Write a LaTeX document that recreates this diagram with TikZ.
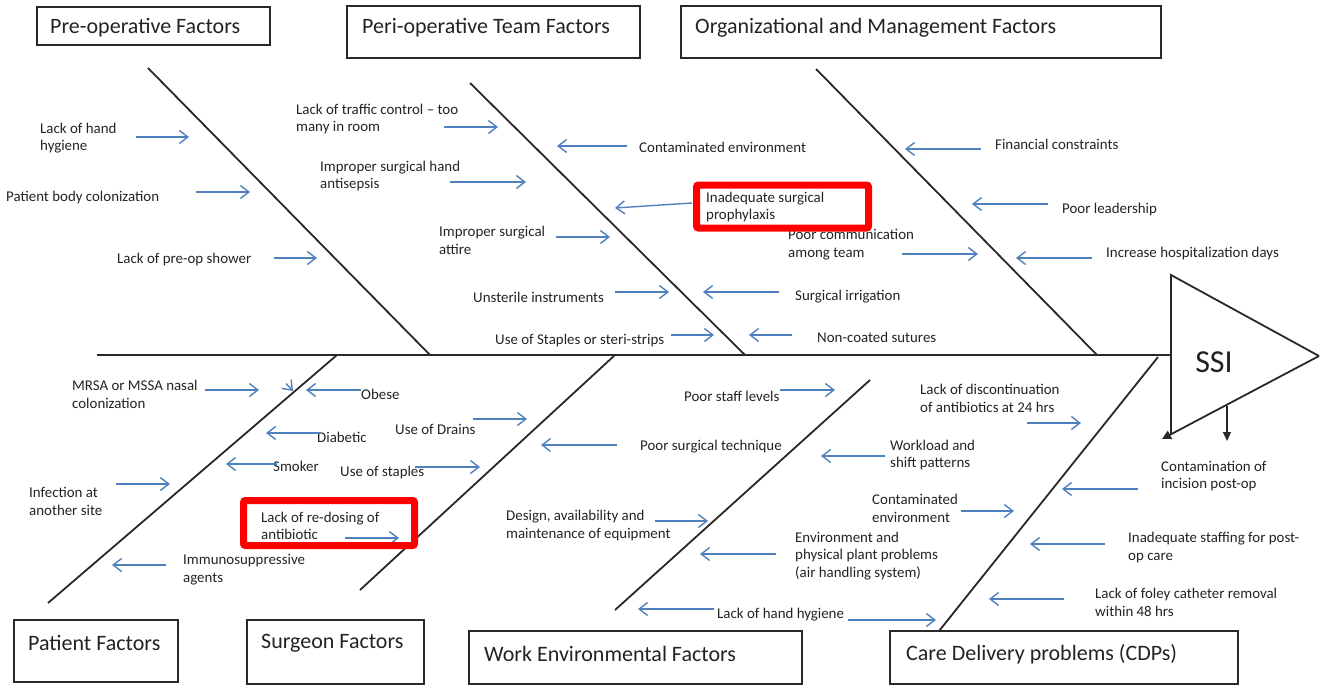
\documentclass[tikz,border=0pt]{standalone}
\usepackage{fontspec}
\setmainfont{Carlito}
\usetikzlibrary{arrows.meta}

\definecolor{causeblue}{RGB}{79,129,189}
\definecolor{boneline}{RGB}{40,40,40}
\definecolor{txt}{RGB}{35,35,35}

\tikzset{
	bone/.style={draw=boneline, line width=1.8pt},
	catbox/.style={draw=boneline, line width=1.3pt},
	cause/.style={draw=causeblue, line width=1.4pt, -{Straight Barb[length=8.5pt,width=13pt]}},
	lbl/.style={anchor=west, align=left, inner sep=0pt, yshift=-1pt, text=txt, font=\fontsize{14.9}{17.3}\selectfont},
	cat/.style={anchor=west, inner sep=0pt, yshift=-2pt, text=txt, font=\fontsize{22}{25}\selectfont},
	hilite/.style={draw=red, line width=7pt, rounded corners=2pt},
}

\begin{document}
\begin{tikzpicture}[x=1pt, y=-1pt]
	\useasboundingbox (0,0) rectangle (1320,685);
	
	% Category boxes
	\draw[catbox] (37,7) rectangle (270,45);
	\draw[catbox] (347,6) rectangle (640,58);
	\draw[catbox] (681,6) rectangle (1161,58);
	\draw[catbox] (14,620) rectangle (178,682);
	\draw[catbox] (247,620) rectangle (424,684);
	\draw[catbox] (469,631) rectangle (802,684);
	\draw[catbox] (890,631) rectangle (1238,684);
	\node[cat] (preop)   at (50,26)   {Pre-operative Factors};
	\node[cat] (periop)  at (362,26)  {Peri-operative Team Factors};
	\node[cat] (orgman)  at (695,26)  {Organizational and Management Factors};
	\node[cat] (patient) at (28,641)  {Patient Factors};
	\node[cat] (surgeon) at (261,641) {Surgeon Factors};
	\node[cat] (workenv) at (484,652) {Work Environmental Factors};
	\node[cat] (cdp)     at (906,652) {Care Delivery problems (CDPs)};
	
	% Spine and head
	\draw[bone] (97,355) -- (1171,355);
	\draw[bone] (1171,434) -- (1171,275) -- (1319,356);
	\draw[bone, -{Triangle[length=9pt,width=9pt]}] (1319,356) -- (1162,439);
	\draw[catbox, -{Triangle[length=9pt,width=8pt]}] (1227,406) -- (1227,441);
	\node[text=txt, font=\fontsize{32}{36}\selectfont] (ssi) at (1214,362) {SSI};
	
	% Bones (upper)
	\draw[bone] (148,68) -- (430,355);
	\draw[bone] (470,83) -- (745,355);
	\draw[bone] (816,69) -- (1097,355);
	% Bones (lower)
	\draw[bone] (337,355) -- (48,603);
	\draw[bone] (615,355) -- (360,590);
	\draw[bone] (870,380) -- (615,610);
	\draw[bone] (1158,357) -- (939,631);
	
	% Pre-operative causes
	\node[lbl] (handhyg)  at (40,137)  {Lack of hand\\hygiene};
	\node[lbl] (colon)    at (6,197)   {Patient body colonization};
	\node[lbl] (shower)   at (117,259) {Lack of pre-op shower};
	\draw[cause] (136,137) -- (189,137);
	\draw[cause] (196,192) -- (250,192);
	\draw[cause] (274,258) -- (317,258);
	
	% Peri-operative team causes
	\node[lbl] (traffic)  at (296,118)   {Lack of traffic control -- too\\many in room};
	\node[lbl] (antisep)  at (320,175)   {Improper surgical hand\\antisepsis};
	\node[lbl] (attire)   at (439,239.5) {Improper surgical\\attire};
	\node[lbl] (unster)   at (473,296)   {Unsterile instruments};
	\node[lbl] (staples)  at (495,340)   {Use of Staples or steri-strips};
	\node[lbl] (contenv)  at (639,146)   {Contaminated environment};
	\node[lbl] (prophyl)  at (706,206)   {Inadequate surgical\\prophylaxis};
	\node[lbl] (irrig)    at (795,296)   {Surgical irrigation};
	\node[lbl] (sutures)  at (817,336)   {Non-coated sutures};
	\node[lbl] (comm)     at (788,243.5) {Poor communication\\among team};
	\draw[cause] (444,127) -- (498,127);
	\draw[cause] (450,182) -- (526,182);
	\draw[cause] (556,237) -- (610,237);
	\draw[cause] (615,292) -- (669,292);
	\draw[cause] (671,335) -- (714,335);
	\draw[cause] (627,146) -- (557,146);
	\draw[cause] (692,203) -- (615,208);
	\draw[cause] (779,292) -- (703,292);
	\draw[cause] (792,335) -- (749,335);
	\draw[cause] (902,254) -- (978,254);
	
	% Organizational causes
	\node[lbl] (finance)  at (995,143)  {Financial constraints};
	\node[lbl] (leader)   at (1062,209) {Poor leadership};
	\node[lbl] (hospdays) at (1106,253) {Increase hospitalization days};
	\draw[cause] (981,149) -- (905,149);
	\draw[cause] (1048,204) -- (972,204);
	\draw[cause] (1092,258) -- (1016,258);
	
	% Patient causes
	\node[lbl] (mrsa)     at (72,393.5)  {MRSA or MSSA nasal\\colonization};
	\node[lbl] (obese)    at (361,393)   {Obese};
	\node[lbl] (diabetic) at (317,436)   {Diabetic};
	\node[lbl] (smoker)   at (273,465)   {Smoker};
	\node[lbl] (infect)   at (29,500.5)  {Infection at\\another site};
	\node[lbl] (immuno)   at (183,568.5) {Immunosuppressive\\agents};
	\draw[cause] (205,390) -- (259,390);
	\draw[cause] (286,383.5) -- (293,391);
	\draw[cause] (361,390) -- (306,390);
	\draw[cause] (320,433) -- (266,433);
	\draw[cause] (277,464) -- (226,464);
	\draw[cause] (116,484) -- (170,484);
	\draw[cause] (166,565) -- (112,565);
	
	% Surgeon causes
	\node[lbl] (drains)   at (395,428)   {Use of Drains};
	\node[lbl] (ustaples) at (340,472)   {Use of staples};
	\node[lbl] (redose)   at (261,525)   {Lack of re-dosing of\\antibiotic};
	\node[lbl] (techn)    at (640,446)   {Poor surgical technique};
	\draw[cause] (473,419) -- (527,419);
	\draw[cause] (415,467) -- (480,467);
	\draw[cause] (345,538) -- (399,538);
	\draw[cause] (617,445) -- (541,445);
	
	% Work environment causes
	\node[lbl] (design)   at (506,524.5) {Design, availability and\\maintenance of equipment};
	\node[lbl] (staff)    at (684,395)   {Poor staff levels};
	\node[lbl] (workload) at (890,454)   {Workload and\\shift patterns};
	\node[lbl] (plant)    at (795,555)   {Environment and\\physical plant problems\\(air handling system)};
	\node[lbl] (handhyg2) at (717,614)   {Lack of hand hygiene};
	\draw[cause] (655,521) -- (708,521);
	\draw[cause] (780,390) -- (835,390);
	\draw[cause] (885,456) -- (821,456);
	\draw[cause] (776,554) -- (700,554);
	\draw[cause] (714,609) -- (638,609);
	\draw[cause] (848,620) -- (936,620);
	
	% Care delivery causes
	\node[lbl] (discont)  at (920,397.5)  {Lack of discontinuation\\of antibiotics at 24 hrs};
	\node[lbl] (contenv2) at (872,507.5)  {Contaminated\\environment};
	\node[lbl] (incision) at (1161,475)   {Contamination of\\incision post-op};
	\node[lbl] (postop)   at (1128,546.5) {Inadequate staffing for post-\\op care};
	\node[lbl] (foley)    at (1095,601.5) {Lack of foley catheter removal\\within 48 hrs};
	\draw[cause] (1027,423) -- (1081,423);
	\draw[cause] (961,511) -- (1014,511);
	\draw[cause] (1138,489) -- (1062,489);
	\draw[cause] (1105,544) -- (1030,544);
	\draw[cause] (1064,599) -- (989,599);
	
	% Highlighted causes
	\draw[hilite] (696.5,185) rectangle (868.5,228);
	\draw[hilite] (243.5,500.5) rectangle (414.5,545.5);
	
\end{tikzpicture}
\end{document}
